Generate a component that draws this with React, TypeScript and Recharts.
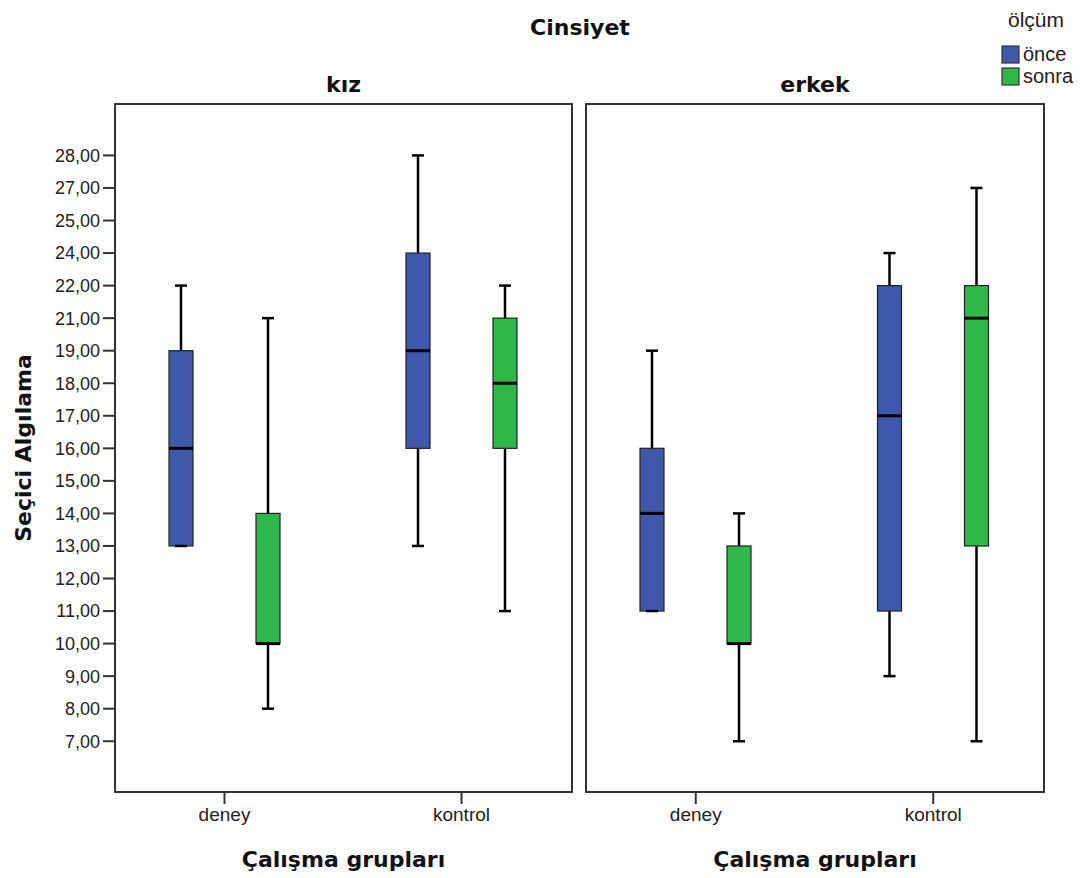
import React from 'react';
import { ComposedChart, Bar, XAxis, YAxis } from 'recharts';

// categories on the x axis
const GROUPS = ['deney', 'kontrol'];
// ordinal y axis tick values (as shown in the reference)
const Y_TICK_VALUES = [7, 8, 9, 10, 11, 12, 13, 14, 15, 16, 17, 18, 19, 21, 22, 24, 25, 27, 28];
// five-number summaries [min, q1, median, q3, max] per group (deney, kontrol)
const KIZ_ONCE = [[13, 13, 16, 19, 22], [13, 16, 19, 24, 28]];
const KIZ_SONRA = [[8, 10, 10, 14, 21], [11, 16, 18, 21, 22]];
const ERKEK_ONCE = [[11, 11, 14, 16, 19], [9, 11, 17, 22, 24]];
const ERKEK_SONRA = [[7, 10, 10, 13, 14], [7, 13, 21, 22, 27]];
const SERIES_NAMES = ['önce', 'sonra'];
const COLORS = ['#3E58AC', '#2EB848'];
const PANEL_TITLES = ['kız', 'erkek'];

const FRAME = '#333333';
const SANS = '"Liberation Sans", Arial, sans-serif';
const BOLD = '"DejaVu Sans", sans-serif';

const idx = (v: number) => Y_TICK_VALUES.indexOf(v);
const fmt = (i: number) => (Y_TICK_VALUES[i] !== undefined ? `${Y_TICK_VALUES[i]},00` : '');
const Y_TICKS = Y_TICK_VALUES.map((_, i) => i);

function BoxShape(props: any) {
  const { x, y, width, height, stats, fill } = props;
  if (!stats) return null;
  const top = Math.min(y, y + height);
  const bottom = Math.max(y, y + height);
  const lo = idx(stats[0]);
  const hi = idx(stats[4]);
  const py = (v: number) => (hi === lo ? bottom : bottom - ((idx(v) - lo) / (hi - lo)) * (bottom - top));
  const cx = x + width / 2;
  const capW = 12;
  const yMin = py(stats[0]);
  const yQ1 = py(stats[1]);
  const yMed = py(stats[2]);
  const yQ3 = py(stats[3]);
  const yMax = py(stats[4]);
  return (
    <g>
      <line x1={cx} x2={cx} y1={yMax} y2={yQ3} stroke="#000" strokeWidth={2.5} />
      <line x1={cx} x2={cx} y1={yQ1} y2={yMin} stroke="#000" strokeWidth={2.5} />
      <rect x={x} y={yQ3} width={width} height={Math.max(0, yQ1 - yQ3)} fill={fill} stroke="#222" strokeWidth={1.2} />
      <line x1={cx - capW / 2} x2={cx + capW / 2} y1={yMax} y2={yMax} stroke="#000" strokeWidth={2.5} />
      <line x1={cx - capW / 2} x2={cx + capW / 2} y1={yMin} y2={yMin} stroke="#000" strokeWidth={2.5} />
      <line x1={x} x2={x + width} y1={yMed} y2={yMed} stroke="#000" strokeWidth={3} />
    </g>
  );
}

const Y_DOMAIN: [number, number] = [-1.56, 19.58];

function Panel(props: { once: number[][]; sonra: number[][]; showY: boolean; left: number; width: number; margin: any }) {
  const { once, sonra, showY, left, width, margin } = props;
  const data = GROUPS.map((g, i) => ({ group: g, once: once[i], sonra: sonra[i] }));
  const seriesStats = [once, sonra];
  return (
    <div style={{ position: 'absolute', left, top: 0 }}>
      <ComposedChart width={width} height={878} data={data} margin={margin} barSize={24} barGap={63}>
        <XAxis
          dataKey="group"
          type="category"
          padding={{ left: -9, right: -8 }}
          axisLine={false}
          tickLine={{ stroke: FRAME, strokeWidth: 2 }}
          tickSize={12}
          tickMargin={4}
          height={40}
          tick={{ fill: '#222', fontSize: 19, fontFamily: SANS }}
        />
        <YAxis
          type="number"
          domain={Y_DOMAIN}
          ticks={showY ? Y_TICKS : []}
          allowDataOverflow
          tickFormatter={fmt}
          width={showY ? 100 : 0}
          axisLine={false}
          tickLine={showY ? { stroke: FRAME, strokeWidth: 2 } : false}
          tick={showY ? { fill: '#222', fontSize: 18, fontFamily: SANS } : false}
          tickSize={12}
          tickMargin={3}
          interval={0}
        />
        {SERIES_NAMES.map((name, s) => (
          <Bar
            key={name}
            name={name}
            dataKey={(d: any) => [idx(d[s === 0 ? 'once' : 'sonra'][0]), idx(d[s === 0 ? 'once' : 'sonra'][4])]}
            fill={COLORS[s]}
            isAnimationActive={false}
            shape={(p: any) => <BoxShape {...p} fill={COLORS[s]} stats={seriesStats[s][GROUPS.indexOf(p.payload.group)]} />}
          />
        ))}
      </ComposedChart>
    </div>
  );
}

export default function App() {
  return (
    <div style={{ position: 'absolute', left: 0, top: 0, width: 1080, height: 878, background: '#fff', overflow: 'hidden' }}>
      <Panel once={KIZ_ONCE} sonra={KIZ_SONRA} showY left={0} width={580} margin={{ top: 104, right: 8, bottom: 46, left: 15 }} />
      <Panel once={ERKEK_ONCE} sonra={ERKEK_SONRA} showY={false} left={580} width={500} margin={{ top: 104, right: 36, bottom: 46, left: 6 }} />
      <svg width={1080} height={878} style={{ position: 'absolute', left: 0, top: 0, pointerEvents: 'none' }}>
        <rect x={115} y={104} width={457} height={688} fill="none" stroke={FRAME} strokeWidth={2} />
        <rect x={586} y={104} width={458} height={688} fill="none" stroke={FRAME} strokeWidth={2} />
        <text x={580} y={35} textAnchor="middle" fontFamily={BOLD} fontWeight="bold" fontSize={22} fill="#111">Cinsiyet</text>
        <text x={343.5} y={92} textAnchor="middle" fontFamily={BOLD} fontWeight="bold" fontSize={22} fill="#111">{PANEL_TITLES[0]}</text>
        <text x={815} y={92} textAnchor="middle" fontFamily={BOLD} fontWeight="bold" fontSize={22} fill="#111">{PANEL_TITLES[1]}</text>
        <text transform="translate(31,448) rotate(-90)" textAnchor="middle" fontFamily={BOLD} fontWeight="bold" fontSize={22} fill="#111">Seçici Algılama</text>
        <text x={343.5} y={867} textAnchor="middle" fontFamily={BOLD} fontWeight="bold" fontSize={22} fill="#111">Çalışma grupları</text>
        <text x={815} y={867} textAnchor="middle" fontFamily={BOLD} fontWeight="bold" fontSize={22} fill="#111">Çalışma grupları</text>
        <text x={1008} y={27} fontFamily={SANS} fontSize={21} fill="#222">ölçüm</text>
        {SERIES_NAMES.map((n, i) => (
          <g key={n}>
            <rect x={1002} y={46 + i * 22} width={17} height={17} fill={COLORS[i]} stroke="#333" strokeWidth={1.2} />
            <text x={1023} y={61 + i * 22} fontFamily={SANS} fontSize={20} fill="#222">{n}</text>
          </g>
        ))}
      </svg>
    </div>
  );
}
